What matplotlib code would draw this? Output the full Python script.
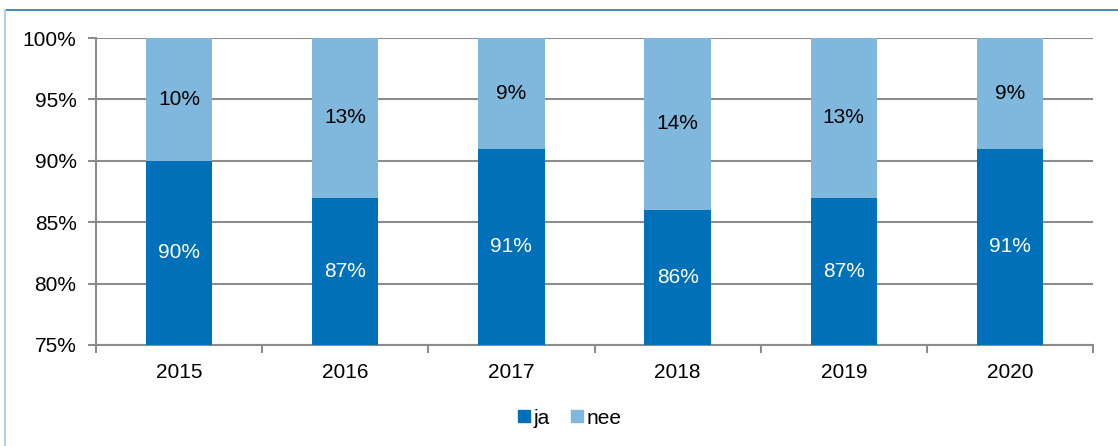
import matplotlib.pyplot as plt
from matplotlib.lines import Line2D
import numpy as np

plt.rcParams['font.family'] = ['Liberation Sans', 'DejaVu Sans']

years = ['2015', '2016', '2017', '2018', '2019', '2020']
ja = [90, 87, 91, 86, 87, 91]
nee = [10, 13, 9, 14, 13, 9]

c_ja = '#0070b8'
c_nee = '#80b7dd'
c_grid = '#8c8c8c'
fs = 15

fig = plt.figure(figsize=(11.18, 4.46), dpi=100)
ax = fig.add_axes([96/1118, 1-345/446, (1093-96)/1118, (345-38)/446])

x = np.arange(len(years))
ax.bar(x, ja, width=0.4, color=c_ja, zorder=3)
ax.bar(x, nee, bottom=ja, width=0.4, color=c_nee, zorder=3)

ymin = 75
for i in range(len(years)):
    ax.text(x[i], (ymin + ja[i]) / 2, f'{ja[i]}%', ha='center', va='center',
            color='white', fontsize=fs, zorder=4)
    ax.text(x[i], ja[i] + nee[i] / 2, f'{nee[i]}%', ha='center', va='center',
            color='black', fontsize=fs, zorder=4)

ax.set_xlim(-0.5, len(years) - 0.5)
ax.set_ylim(75, 100)
ax.set_yticks(range(75, 101, 5))
ax.set_yticklabels([f'{v}%' for v in range(75, 101, 5)])
ax.yaxis.grid(True, color=c_grid, lw=1.5, zorder=0)

ax.set_xticks(x)
ax.set_xticklabels(years)
ax.set_xticks(np.arange(-0.5, len(years)), minor=True)
ax.tick_params(axis='x', which='major', length=0, pad=13, labelsize=fs)
ax.tick_params(axis='x', which='minor', length=6, width=1.5, color=c_grid)
ax.tick_params(axis='y', length=6, width=1.5, color=c_grid, pad=8, labelsize=fs)

for s in ['top', 'right']:
    ax.spines[s].set_visible(False)
for s in ['left', 'bottom']:
    ax.spines[s].set_color(c_grid)
    ax.spines[s].set_linewidth(1.5)

handles = [plt.Rectangle((0, 0), 1, 1, color=c_ja), plt.Rectangle((0, 0), 1, 1, color=c_nee)]
fig.legend(handles, ['ja', 'nee'], loc='center', bbox_to_anchor=(570/1118, 1-418/446),
           ncol=2, frameon=False, fontsize=fs, handlelength=0.55, handleheight=0.55,
           handletextpad=0.2, columnspacing=1.0)

# outer frame of the figure box
fig.add_artist(Line2D([5/1118, 1], [1-10/446, 1-10/446], color='#2a74b8', lw=1.2))
fig.add_artist(Line2D([5/1118, 5/1118], [0, 1-10/446], color='#b5cfea', lw=1.5))

fig.savefig('out.png', dpi=100)
